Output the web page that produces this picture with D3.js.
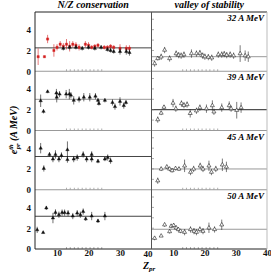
<!DOCTYPE html>
<html>
<head>
<meta charset="utf-8">
<script src="https://cdn.jsdelivr.net/npm/d3@7"></script>
<style>
  body { margin: 0; background: #fff; }
  text { font-family: "Liberation Serif", "DejaVu Serif", serif; }
</style>
</head>
<body>
<svg width="271" height="274"></svg>
<script>
// panel titles, energies and axis ticks
const columnTitles = ["N/Z conservation", "valley of stability"];
const energies = ["32 A MeV", "39 A MeV", "45 A MeV", "50 A MeV"];
const zTicks = [10, 20, 30, 40];
const yTicks = [0, 2, 4];
const minorZ = [13, 14.2, 15.5, 16.7, 18, 19.2, 20.5, 21.7, 23, 24.2];

// mean lines per row
const meanLeft = [2.25, 3.0, 3.2, 3.15];
const meanRight = [1.4, 2.0, 2.0, 1.9];

// [Z, value, error]
const nzRed = [[4,1.4,0.8],[6,1.4,0.1],[7,3.1,0.4],[9,2.0,0.6],[10,2.3,0.3],[11,2.6,0.3],[12,2.4,0.3],
  [13,2.6,0.5],[14,2.4,0.5],[15,2.6,0.3],[16,2.5,0.3],[17,2.3,0.3],[19,2.6,0.3],[20,2.5,0.3],
  [21,2.3,0.2],[22,2.4,0.2],[23,2.5,0.2],[25,2.3,0.2],[26,2.3,0.2],[27,2.4,0.2],[28,2.3,0.2],
  [30,2.2,0.4],[32,2.2,0.3],[33,2.2,0.3]];
const nz32 = [[12,2.2,0.2],[14,2.3,0.2],[16,2.3,0.2],[18,2.2,0.2],[20,2.3,0.2],[22,2.2,0.2],
  [24,2.3,0.2],[26,2.1,0.2],[27,2.0,0.2],[28,1.9,0.2],[30,1.9,0.3],[32,1.9,0.3],[33,1.8,0.3]];
const nz39 = [[4.8,2.86,0.6],[5.7,1.84,0.2],[7,3.74,0.15],[9.8,3.6,0.4],[9.9,3.2,0.5],[10.8,3.5,0.3],
  [12.9,3.5,0.4],[13.9,3.5,0.5],[14.4,3.4,0.3],[15.3,2.9,0.4],[17,3.0,0.3],[18.5,3.2,0.4],
  [20.4,3.2,0.4],[22.2,3.3,0.3],[23,2.9,0.2],[23.3,2.6,0.2],[25.2,2.9,0.2],[27.6,2.7,0.3],
  [28.4,2.3,0.3],[30,2.8,0.4],[31.2,2.4,0.3],[31.9,2.7,0.2]];
const nz45 = [[4.8,4.0,0.5],[5.8,2.05,0.3],[7.6,3.4,0.2],[8.7,2.95,0.3],[9.5,3.4,0.4],[10.6,2.95,0.3],
  [11.4,3.3,0.3],[13.3,3.85,0.8],[13.3,2.9,0.3],[15.3,2.95,0.3],[16.4,3.1,0.3],[18.3,3.4,0.3],
  [19.4,2.95,0.3],[21,3.4,0.3],[21,2.95,0.3],[23,2.75,0.2],[25.2,2.95,0.2],[26.1,3.1,0.3],[27,2.8,0.3]];
const nz50 = [[3.7,1.84,0.3],[5.6,1.58,0.1],[6.6,3.95,0.2],[8.7,2.98,0.5],[9.5,3.52,0.3],[10.6,3.3,0.3],
  [11.6,3.5,0.3],[12.4,3.5,0.3],[13.5,3.45,0.3],[15,3.17,0.3],[16.4,3.45,0.3],[17.4,3.3,0.3],
  [18.3,3.6,0.3],[19.1,2.9,0.2],[21,3.17,0.4],[23,2.7,0.2],[25.2,3.17,0.4]];
const vs32 = [[4,0.74,0.3],[5,1.23,0.2],[6.1,1.39,0.3],[7.2,2.04,0.3],[8.8,1.23,0.3],[10.9,1.7,0.3],
  [11.7,1.55,0.3],[12.5,1.5,0.3],[13.4,1.6,0.3],[15.8,1.7,0.4],[17.4,1.7,0.3],[18.5,1.75,0.3],
  [19.4,1.5,0.3],[20.1,1.4,0.3],[21.2,1.36,0.3],[22.3,1.3,0.3],[24.4,1.6,0.3],[25.5,1.6,0.3],
  [26.3,1.65,0.3],[27.1,1.55,0.3],[28.2,1.6,0.3],[29.3,1.5,0.3],[31.4,1.7,0.8],[33,1.5,0.5],[34,1.4,0.5]];
const vs39 = [[5,1.05,0.3],[6.1,1.68,0.2],[7,2.25,0.2],[9.9,2.64,0.4],[10.8,2.1,0.3],[12.6,2.6,0.3],
  [13.4,2.43,0.3],[14.4,2.5,0.3],[15.4,1.65,0.4],[17.4,1.9,0.3],[18.5,2.2,0.3],[20.6,2.1,0.4],
  [22.5,2.4,0.5],[23,1.8,0.3],[25.5,2.2,0.4],[27.9,2.4,0.4],[28.5,2.1,0.3],[30.3,1.95,0.8],[31.7,2.2,0.5]];
const vs45 = [[5,0.87,0.3],[6.1,2.0,0.2],[7.9,2.2,0.2],[8.8,2.0,0.2],[9.6,1.85,0.2],[10.7,2.05,0.2],
  [11.8,2.0,0.2],[13.6,2.3,0.6],[15.5,1.7,0.3],[16.5,2.0,0.3],[18.6,2.3,0.3],[19.5,2.0,0.3],
  [21.4,2.3,0.5],[22.2,1.7,0.3],[23.6,2.0,0.3],[25.7,2.4,0.6],[27,2.2,0.5]];
const vs50 = [[4,1.04,0.2],[6.1,1.26,0.1],[7.2,2.33,0.2],[8.8,1.68,0.2],[9.3,2.2,0.2],[10.1,2.27,0.2],
  [10.9,2.04,0.2],[11.6,1.88,0.2],[12.3,1.72,0.2],[13.6,1.62,0.3],[15.5,1.88,0.3],[16.6,1.72,0.3],
  [17.4,1.62,0.3],[18.5,1.88,0.3],[19.5,1.72,0.3],[21.4,2.04,0.5],[23.2,1.88,0.3],[25.5,2.33,0.5]];

const leftData = [nz32, nz39, nz45, nz50];
const rightData = [vs32, vs39, vs45, vs50];

const svg = d3.select("svg");
const top0 = 12, rowH = 59.25;
const cols = [[35, 151.5], [151.5, 267]];

const xs = cols.map(r => d3.scaleLinear().domain([3, 40]).range(r));
const yOf = i => d3.scaleLinear().domain([0, 5.7]).range([top0 + (i + 1) * rowH, top0 + i * rowH]);

function drawPoints(g, x, y, data, color, open, shape) {
  const sym = d3.symbol().type(shape || d3.symbolTriangle).size(open ? 7 : 5);
  g.selectAll(null).data(data).enter().append("line")
    .attr("x1", d => x(d[0])).attr("x2", d => x(d[0]))
    .attr("y1", d => y(d[1] - d[2])).attr("y2", d => y(d[1] + d[2]))
    .attr("stroke", color).attr("stroke-width", 0.6);
  g.selectAll(null).data(data).enter().append("path")
    .attr("d", sym)
    .attr("transform", d => `translate(${x(d[0])},${y(d[1])})`)
    .attr("fill", open ? "#fff" : color)
    .attr("stroke", color).attr("stroke-width", open ? 0.6 : 0.4);
}

for (let i = 0; i < 4; i++) {
  const y = yOf(i);
  const g = svg.append("g");
  // mean lines
  g.append("line").attr("x1", xs[0](3)).attr("x2", xs[0](40))
    .attr("y1", y(meanLeft[i])).attr("y2", y(meanLeft[i]))
    .attr("stroke", i == 1 ? "#999" : "#444").attr("stroke-width", 1);
  g.append("line").attr("x1", xs[1](3)).attr("x2", xs[1](40))
    .attr("y1", y(meanRight[i])).attr("y2", y(meanRight[i]))
    .attr("stroke", i == 1 ? "#222" : "#999").attr("stroke-width", 1);

  // minor ticks along bottom of each panel
  xs.forEach(x => {
    g.selectAll(null).data(minorZ).enter().append("line")
      .attr("x1", d => x(d)).attr("x2", d => x(d))
      .attr("y1", y(0)).attr("y2", y(0) - 2)
      .attr("stroke", "#777").attr("stroke-width", 0.6);
  });
  // y ticks on right panel left edge
  g.selectAll(null).data(d3.range(1, 6)).enter().append("line")
    .attr("x1", xs[1](3)).attr("x2", xs[1](3) + 2.5)
    .attr("y1", d => y(d)).attr("y2", d => y(d))
    .attr("stroke", "#777").attr("stroke-width", 0.6);

  if (i == 0) drawPoints(g, xs[0], y, nzRed, "#d42020", false, d3.symbolSquare);
  drawPoints(g, xs[0], y, leftData[i], "#111", false);
  drawPoints(g, xs[1], y, rightData[i], "#222", true);

  // y axis labels
  const yAxis = d3.axisLeft(y).tickValues(yTicks).tickSize(0).tickPadding(4).tickFormat(d3.format("d"));
  const ya = svg.append("g").attr("transform", `translate(${cols[0][0]},0)`).call(yAxis);
  ya.select(".domain").remove();
  ya.selectAll("text").attr("font-size", 9).attr("font-weight", "bold")
    .attr("font-family", "Liberation Serif").attr("fill", "#111");

  // energy label
  svg.append("text").attr("x", 264).attr("y", top0 + i * rowH + 9)
    .attr("text-anchor", "end").attr("font-size", 9)
    .attr("font-style", "italic").attr("font-weight", "bold").text(energies[i]);

  // row separator
  if (i < 3) {
    svg.append("line").attr("x1", 35).attr("x2", 267)
      .attr("y1", y(0)).attr("y2", y(0)).attr("stroke", "#999").attr("stroke-width", 1);
  }
}

// frame
const bottom = top0 + 4 * rowH;
svg.append("line").attr("x1", 35).attr("x2", 267).attr("y1", top0).attr("y2", top0).attr("stroke", "#222");
svg.append("line").attr("x1", 35).attr("x2", 35).attr("y1", top0).attr("y2", bottom).attr("stroke", "#222");
svg.append("line").attr("x1", 35).attr("x2", 267).attr("y1", bottom).attr("y2", bottom).attr("stroke", "#222");
svg.append("line").attr("x1", 151.5).attr("x2", 151.5).attr("y1", top0).attr("y2", bottom).attr("stroke", "#555");
svg.append("line").attr("x1", 267).attr("x2", 267).attr("y1", top0).attr("y2", bottom).attr("stroke", "#bbb");

// x axes
xs.forEach((x, k) => {
  const xa = svg.append("g").attr("transform", `translate(0,${bottom})`)
    .call(d3.axisBottom(x).tickValues(k == 0 ? zTicks.slice(0, 3) : zTicks).tickSize(0).tickPadding(1));
  xa.select(".domain").remove();
  xa.selectAll("text").attr("font-size", 9).attr("font-weight", "bold")
    .attr("font-family", "Liberation Serif").attr("fill", "#111");
});
// shared "40" at the panel boundary
svg.append("text").attr("x", 148).attr("y", bottom + 7.5).attr("text-anchor", "middle")
  .attr("font-size", 9).attr("font-weight", "bold").attr("fill", "#111").text(zTicks[3]);

// column titles
svg.selectAll(null).data(columnTitles).enter().append("text")
  .attr("x", (d, i) => (cols[i][0] + cols[i][1]) / 2)
  .attr("y", 8).attr("text-anchor", "middle")
  .attr("font-size", 10).attr("font-style", "italic").attr("font-weight", "bold")
  .text(d => d);

// axis titles
const xt = svg.append("text").attr("x", 143).attr("y", 268.5)
  .attr("font-size", 10).attr("font-style", "italic").attr("font-weight", "bold");
xt.append("tspan").text("Z");
xt.append("tspan").attr("dy", 2.5).attr("font-size", 7).text("pr");

const yt = svg.append("text").attr("transform", "translate(17,130) rotate(-90)")
  .attr("text-anchor", "middle").attr("font-size", 10).attr("font-style", "italic").attr("font-weight", "bold");
yt.append("tspan").text("e");
yt.append("tspan").attr("dy", -4).attr("font-size", 6.5).text("th");
yt.append("tspan").attr("dx", -5).attr("dy", 7).attr("font-size", 6.5).text("pr");
yt.append("tspan").attr("dy", -3).text(" (A MeV)");
</script>
</body>
</html>
